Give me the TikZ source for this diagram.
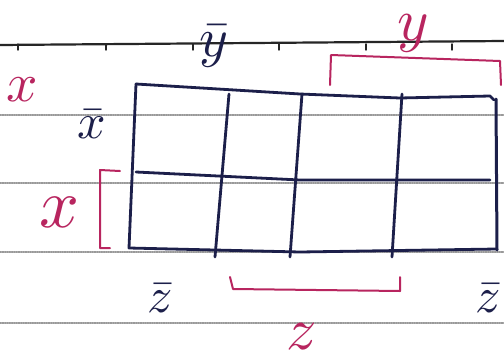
\documentclass[tikz,border=0pt]{standalone}
\usepackage{amsmath,amssymb}
\usepackage{tikz}

\definecolor{penblue}{HTML}{1C1F4A}
\definecolor{penpink}{HTML}{B8255F}

\begin{document}
\begin{tikzpicture}[x=1pt,y=-1pt,line cap=round,line join=round]
  \useasboundingbox[fill=white] (0,0) rectangle (504,362);
  % ruled lines of the page
  \foreach \h in {115,183,252,323}{
    \draw[black!40,densely dotted,line width=1.3pt] (0,\h) -- (504,\h);
  }
  \draw[black!85,line width=2.2pt] (0,45) -- (504,41);
  \foreach \t in {18,106,193,279,366,452}{
    \draw[black!85,line width=1.4pt] (\t,44) -- (\t,50);
  }
  % the map
  \draw[penblue,line width=2.8pt] (136,84) -- (300,94) -- (400,98) -- (490,96) -- (494,100);
  \draw[penblue,line width=2.8pt] (136,84) -- (129,248) -- (300,252) -- (497,249);
  \draw[penblue,line width=3pt] (496,99) -- (497,250);
  \draw[penblue,line width=2.8pt] (136,172) -- (300,180) -- (490,180);
  \foreach \a/\b in {229/215,302/290,402/392}{
    \draw[penblue,line width=2.8pt] (\a,94) -- (\b,257);
  }
  % brackets
  \draw[penpink,line width=2pt] (330,85) -- (331,55) -- (500,61) -- (501,85);
  \draw[penpink,line width=2pt] (120,171) -- (100,170) -- (100,248) -- (110,248);
  \draw[penpink,line width=2pt] (230,277) -- (233,289) -- (400,291) -- (400,277);
  % variable names
  \node[penblue,inner sep=0pt,scale=5.5] (ybar) at (214,46) {$\bar{y}$};
  \node[penpink,inner sep=0pt,scale=6] (ypos) at (413,33) {$y$};
  \node[penpink,inner sep=0pt,scale=5.5] (xmark) at (22,90) {$x$};
  \node[penblue,inner sep=0pt,scale=5] (xbar) at (92,124) {$\bar{x}$};
  \node[penpink,inner sep=0pt,scale=7] (xpos) at (60,212) {$x$};
  \node[penblue,inner sep=0pt,scale=5] (zbarl) at (160,298) {$\bar{z}$};
  \node[penblue,inner sep=0pt,scale=5] (zbarr) at (488,298) {$\bar{z}$};
  \node[penpink,inner sep=0pt,scale=6] (zpos) at (302,337) {$z$};
\end{tikzpicture}
\end{document}
